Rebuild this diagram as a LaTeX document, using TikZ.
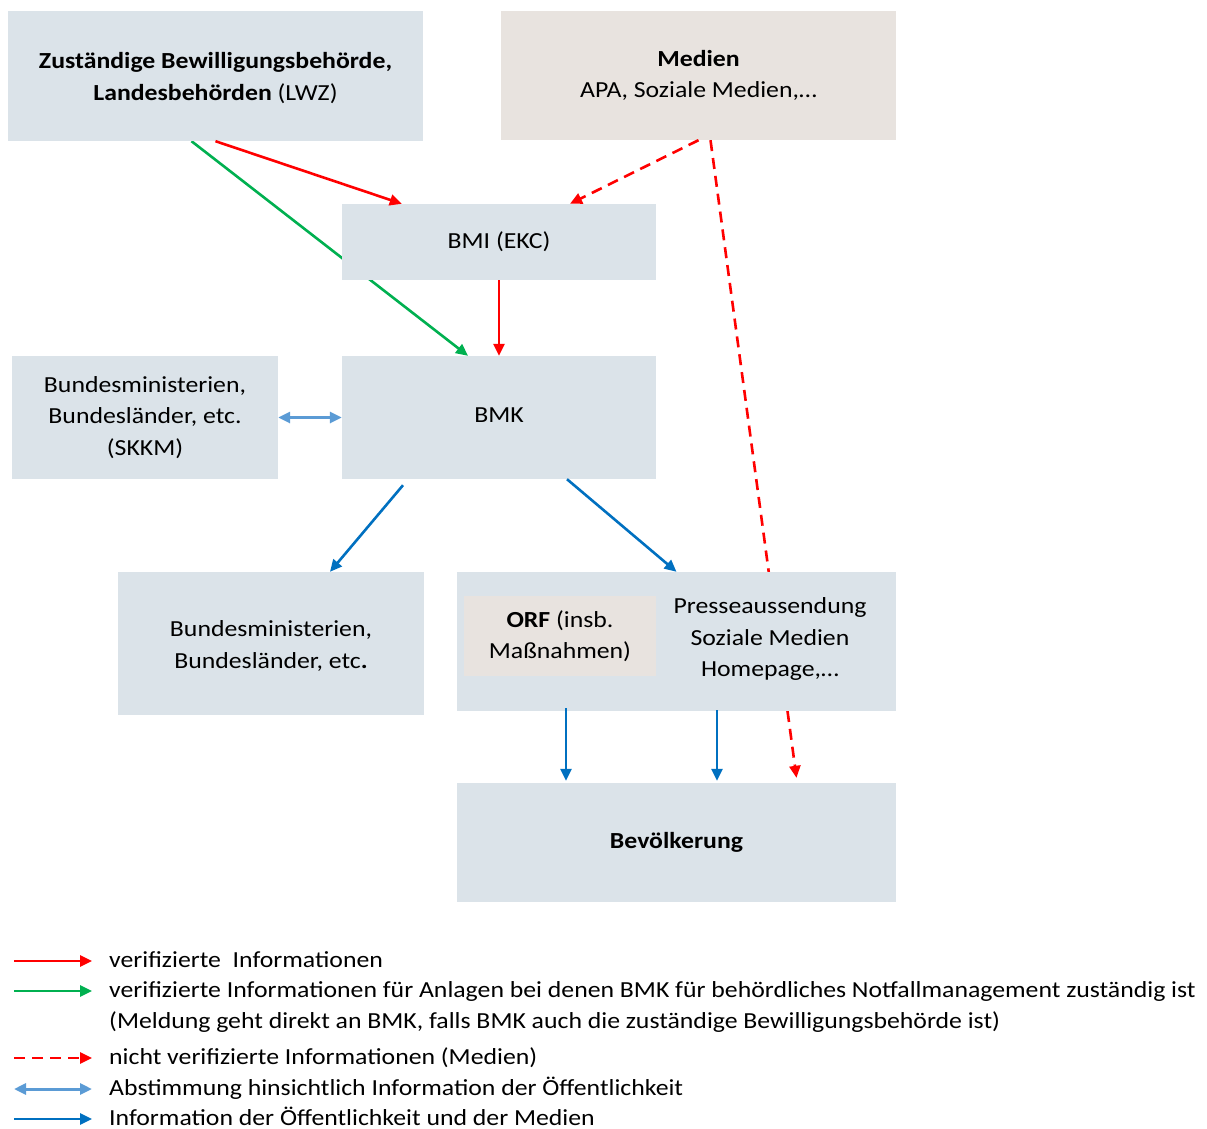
\documentclass[tikz,border=0pt]{standalone}
\usepackage{fontspec}
\setmainfont{Carlito}[FakeStretch=1.12]
\usepackage{tikz}
\usetikzlibrary{positioning, calc, arrows.meta, backgrounds}

\definecolor{boxBlue}{RGB}{219, 227, 233}
\definecolor{boxSand}{RGB}{232, 227, 223}
\definecolor{arrRed}{RGB}{255, 0, 0}
\definecolor{arrGreen}{RGB}{0, 176, 80}
\definecolor{arrBlue}{RGB}{0, 112, 192}
\definecolor{arrLight}{RGB}{91, 155, 213}

\begin{document}
\begin{tikzpicture}[
    x=1pt, y=-1pt,
    every node/.style={font=\fontsize{23}{31.5}\selectfont},
    box/.style={rectangle, fill=boxBlue, align=center, inner sep=0pt},
    sandbox/.style={rectangle, fill=boxSand, align=center, inner sep=0pt},
    boxtext/.style={align=center, inner sep=0pt},
    legtext/.style={anchor=base west, inner sep=0pt},
    tip/.style={-{Triangle[length=12pt, width=11pt]}},
    redarrow/.style={tip, arrRed, line width=2.6pt},
    greenarrow/.style={tip, arrGreen, line width=2.6pt},
    dasharrow/.style={tip, arrRed, line width=2.6pt, dash pattern=on 11pt off 7pt},
    bluearrow/.style={tip, arrBlue, line width=2.6pt},
    dblarrow/.style={{Triangle[length=12pt, width=11pt]}-{Triangle[length=12pt, width=11pt]}, arrLight, line width=3pt},
  ]
    \useasboundingbox (0,0) rectangle (1207,1129);

    % Top row
    \node[box, minimum width=415pt, minimum height=130pt] (LWZ) at (215.5,76) {};
    \node[boxtext] (LWZTXT) at (215.5,78)
      {\textbf{Zuständige Bewilligungsbehörde,}\\\textbf{Landesbehörden} (LWZ)};
    \node[sandbox, minimum width=395pt, minimum height=129pt] (MED) at (698.5,75.5)
      {\textbf{Medien}\\APA, Soziale Medien,\ldots};

    % Middle
    \node[box, minimum width=314pt, minimum height=76pt] (BMI) at (499,242) {BMI (EKC)};
    \node[box, minimum width=314pt, minimum height=123pt] (BMK) at (499,417.5) {\raisebox{5pt}{BMK}};
    \node[box, minimum width=266pt, minimum height=123pt] (SKKM) at (145,417.5)
      {Bundesministerien,\\Bundesländer, etc.\\(SKKM)};

    % Lower row
    \node[box, minimum width=306pt, minimum height=143pt] (BUND) at (271,643.5) {};
    \node[boxtext] (BTXT) at (271,646)
      {Bundesministerien,\\Bundesländer, etc\textbf{.}};
    \node[box, minimum width=439pt, minimum height=139pt] (PRESSE) at (676.5,641.5) {};
    \node[sandbox, minimum width=192pt, minimum height=80pt] (ORF) at (560,636)
      {\textbf{ORF} (insb.\\Maßnahmen)};
    \node[boxtext] (PTXT) at (770,639)
      {Presseaussendung\\Soziale Medien\\Homepage,\ldots};
    \node[box, minimum width=439pt, minimum height=119pt] (BEV) at (676.5,842.5)
      {\raisebox{-7pt}{\textbf{Bevölkerung}}};

    % Connectors
    \begin{scope}[on background layer]
      \draw[greenarrow] ([xshift=-24pt]LWZ.south) -- ([xshift=-31pt]BMK.north);
      \draw[dasharrow] ([xshift=12pt]MED.south) -- ([xshift=120pt, yshift=5pt]BEV.north);
    \end{scope}
    \draw[redarrow] (LWZ.south) -- ([xshift=60pt]BMI.north west);
    \draw[redarrow] (BMI.south) -- (BMK.north);
    \draw[dasharrow] (MED.south) -- ([xshift=71pt]BMI.north);
    \draw[dblarrow] (SKKM.east) -- (BMK.west);
    \draw[bluearrow] ([xshift=-96pt, yshift=-6pt]BMK.south) -- ([xshift=59pt]BUND.north);
    \draw[bluearrow] ([xshift=68pt]BMK.south) -- (PRESSE.north);
    \draw[bluearrow] ([xshift=-110.5pt, yshift=3pt]PRESSE.south) -- ([xshift=-110.5pt, yshift=2pt]BEV.north);
    \draw[bluearrow] ([xshift=40.5pt, yshift=1pt]PRESSE.south) -- ([xshift=40.5pt, yshift=2pt]BEV.north);

    % Legend
    \foreach \yy/\sty/\lbl [count=\i] in {
      961/redarrow/{verifizierte~ Informationen},
      991/greenarrow/{verifizierte Informationen für Anlagen bei denen BMK für behördliches Notfallmanagement zuständig ist},
      1058/dasharrow/{nicht verifizierte Informationen (Medien)},
      1089/dblarrow/{Abstimmung hinsichtlich Information der Öffentlichkeit},
      1119/bluearrow/{Information der Öffentlichkeit und der Medien}}
    {
      \node[legtext] (LT\i) at (109,\yy+6) {\lbl};
      \coordinate (LA\i) at (14,\yy);
      \draw[\sty] (LA\i) -- (92,\yy);
    }
    \node[legtext] (LT2b) at (109,1028)
      {(Meldung geht direkt an BMK, falls BMK auch die zuständige Bewilligungsbehörde ist)};
  \end{tikzpicture}
\end{document}
